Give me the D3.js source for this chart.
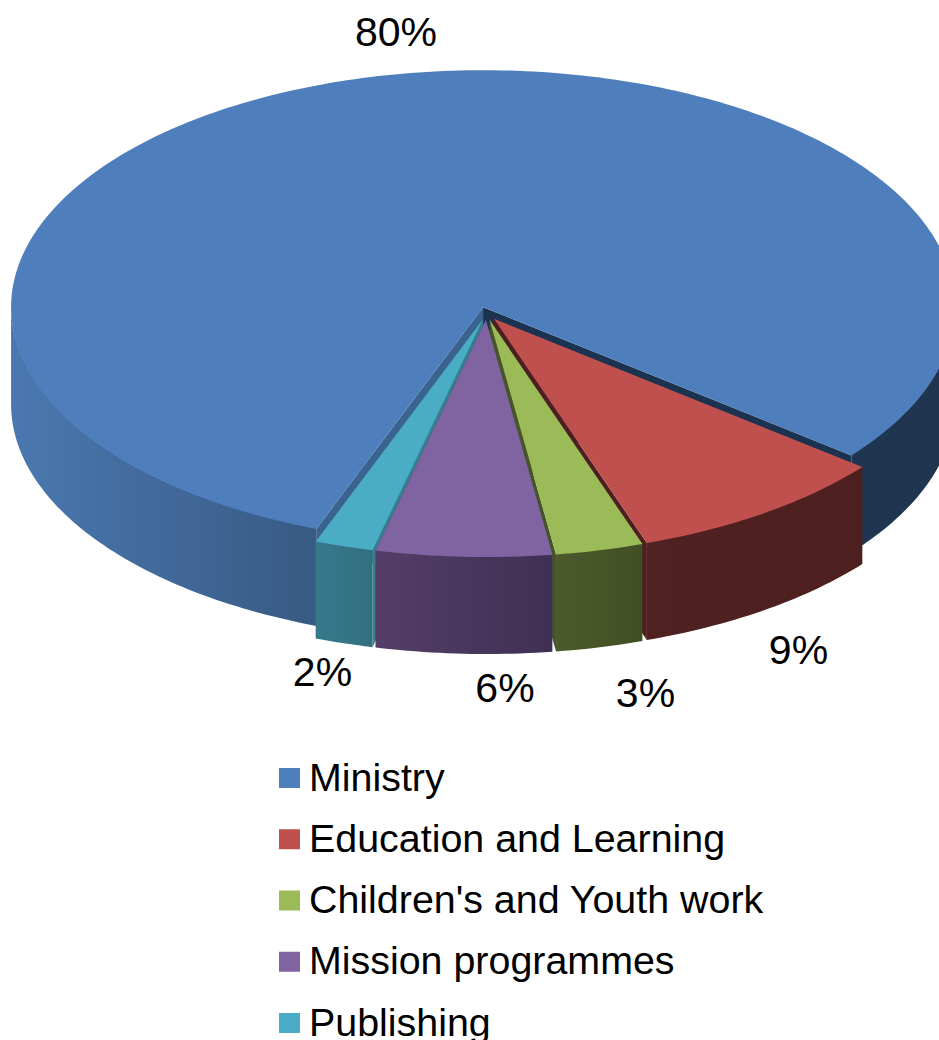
<!DOCTYPE html>
<html>
<head>
<meta charset="utf-8">
<style>
  html, body { margin: 0; padding: 0; background: #fff; overflow: hidden; }
  svg { display: block; }
  text { font-family: "Liberation Sans", Arial, sans-serif; fill: #000; }
</style>
<script src="https://cdn.jsdelivr.net/npm/d3@7/dist/d3.min.js"></script>
</head>
<body>
<svg id="chart" width="939" height="1040"></svg>
<script>
// Budget shares, listed clockwise
const categories = ["Ministry", "Education and Learning", "Children's and Youth work", "Mission programmes", "Publishing"];
const shares = [80, 9, 3, 6, 2];

// Face colours per slice
const topColors = ["#4e7fbc", "#bf504d", "#9bbb59", "#8064a2", "#4bacc6"];
const rimLight = ["#4a78af", "#4f2120", "#4b5a2b", "#543e67", "#36798b"];
const rimDark = ["#385a84", "#4d1f1e", "#424f25", "#3e3053", "#33707f"];
const rearRim = "#1f3550";
const cutColors = { start: "#3a6390", end: ["#1b3350", "#4d1f1e", "#47542a", "#3e3053", "#34808f"] };

// Data label placement, as centre x and baseline y
const labelX = [396, 798.5, 645.5, 505, 322.5];
const labelY = [46, 664, 707, 702, 686];

const W = 939, H = 1040;
const centre = { x: 486.5, y: 313.5 };
const rx = 472, ry = 237, depth = 97, explode = 0.0275;
const firstAngle = 200.7 * Math.PI / 180;

const svg = d3.select("#chart");
const defs = svg.append("defs");

const pie = d3.pie().sort(null).startAngle(firstAngle).endAngle(firstAngle + 2 * Math.PI);
const slices = pie(shares).map((d, i) => ({ ...d, i, mid: (d.startAngle + d.endAngle) / 2 }));

const xUnit = d3.scaleLinear().domain([-1, 1]).range([centre.x - rx, centre.x + rx]);
const yUnit = d3.scaleLinear().domain([-1, 1]).range([centre.y - ry, centre.y + ry]);

// Position on the exploded slice: r in pie radii, a clockwise from the top
function project(slice, a, r, drop = 0) {
  const ux = r * Math.sin(a) + explode * Math.sin(slice.mid);
  const uy = -r * Math.cos(a) - explode * Math.cos(slice.mid);
  return [xUnit(ux), yUnit(uy) + drop];
}
const line = d3.line();

function rimAngles(a0, a1) {
  const n = Math.max(2, Math.ceil((a1 - a0) / (Math.PI / 180)));
  return d3.range(n + 1).map(k => a0 + (a1 - a0) * k / n);
}

function topPath(s) {
  const rim = rimAngles(s.startAngle, s.endAngle).map(a => project(s, a, 1));
  return line([project(s, 0, 0), ...rim]) + "Z";
}
function cutPath(s, a) {
  return line([project(s, 0, 0), project(s, a, 1), project(s, a, 1, depth), project(s, 0, 0, depth)]) + "Z";
}
// The upper edge runs a pixel under the top face so no seam shows between them
function outerPath(s, a0, a1) {
  const angles = rimAngles(a0, a1);
  return line([
    ...angles.map(a => project(s, a, 1, -1)),
    ...angles.slice().reverse().map(a => project(s, a, 1, depth))
  ]) + "Z";
}

// The camera sees the rim only where it faces forward, 90 to 270 degrees
function frontRanges(s) {
  const out = [];
  const lo = Math.PI / 2, hi = 3 * Math.PI / 2;
  for (const shift of [0, 2 * Math.PI]) {
    const a0 = Math.max(s.startAngle, lo + shift);
    const a1 = Math.min(s.endAngle, hi + shift);
    if (a1 > a0) out.push([a0, a1, shift]);
  }
  return out;
}

function rimFill(s, range, idx) {
  if (s.i === 0 && range[2] > 0) return rearRim;
  const pts = rimAngles(range[0], range[1]).map(a => project(s, a, 1)[0]);
  const id = `rim-${s.i}-${idx}`;
  const g = defs.append("linearGradient").attr("id", id)
    .attr("gradientUnits", "userSpaceOnUse")
    .attr("x1", d3.min(pts)).attr("x2", d3.max(pts)).attr("y1", 0).attr("y2", 0);
  g.append("stop").attr("offset", 0).attr("stop-color", rimLight[s.i]);
  g.append("stop").attr("offset", 1).attr("stop-color", rimDark[s.i]);
  return `url(#${id})`;
}

// Paint from the back of the pie to the front
const paintOrder = [0, 1, 2, 4, 3];
const pieLayer = svg.append("g").attr("class", "pie");
paintOrder.forEach(i => {
  const s = slices[i];
  const g = pieLayer.append("g").attr("class", "slice");
  if (i === 0) g.append("path").attr("d", cutPath(s, s.startAngle)).attr("fill", cutColors.start);
  g.append("path").attr("d", cutPath(s, s.endAngle)).attr("fill", cutColors.end[i]);
  if (i === 4) g.append("path").attr("d", cutPath(s, s.startAngle)).attr("fill", cutColors.end[4]);
  frontRanges(s).forEach((r, k) => {
    g.append("path").attr("d", outerPath(s, r[0], r[1])).attr("fill", rimFill(s, r, k));
  });
  g.append("path").attr("d", topPath(s)).attr("fill", topColors[i]);
});

// Percentage labels
const pct = d3.format(".0f");
svg.append("g").attr("class", "labels").selectAll("text")
  .data(slices).join("text")
  .attr("x", d => labelX[d.i])
  .attr("y", d => labelY[d.i])
  .attr("text-anchor", "middle")
  .attr("font-size", 41)
  .text(d => pct(d.value) + "%");

// Legend, stacked under the pie
const rowY = d3.scalePoint().domain(categories).range([778, 1023]);
const legend = svg.append("g").attr("class", "legend").selectAll("g")
  .data(categories).join("g")
  .attr("transform", d => `translate(279,${rowY(d)})`);
legend.append("rect")
  .attr("x", 0).attr("y", -10).attr("width", 21).attr("height", 20)
  .attr("fill", (d, i) => topColors[i]);
legend.append("text")
  .attr("x", 30).attr("y", 12.5)
  .attr("font-size", 39.4)
  .text(d => d);
</script>
</body>
</html>
